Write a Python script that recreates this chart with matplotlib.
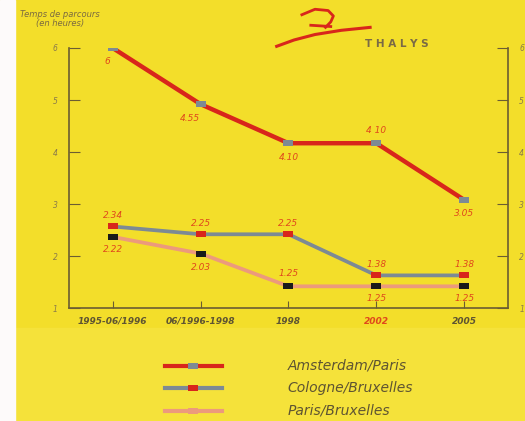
import matplotlib.pyplot as plt
from matplotlib.lines import Line2D
from matplotlib.patches import Rectangle

# Data (travel times in hours; labels are h.mm as printed)
periods = ["1995-06/1996", "06/1996-1998", "1998", "2002", "2005"]
amsterdam_paris = [6.0, 4.92, 4.17, 4.17, 3.08]
amsterdam_labels = ["6", "4.55", "4.10", "4 10", "3.05"]
cologne_bruxelles = [2.57, 2.42, 2.42, 1.63, 1.63]
cologne_labels = ["2.34", "2.25", "2.25", "1.38", "1.38"]
paris_bruxelles = [2.37, 2.05, 1.42, 1.42, 1.42]
paris_labels = ["2.22", "2.03", "1.25", "1.25", "1.25"]
series_names = ["Amsterdam/Paris", "Cologne/Bruxelles", "Paris/Bruxelles"]

yellow = "#f3de2a"
yellow_low = "#f5e23a"
red = "#d8261b"
grey = "#7d8a94"
pink = "#ec9a7c"
axis_col = "#6b5d32"
label_col = "#e0481c"
text_col = "#5e5432"

rect = [(-1, -0.6), (1, -0.6), (1, 0.6), (-1, 0.6), (-1, -0.6)]

fig = plt.figure(figsize=(5.25, 4.21), dpi=100, facecolor=yellow)
fig.patches.append(Rectangle((0, 0), 1, 0.221, transform=fig.transFigure,
                             color=yellow_low, zorder=0))
fig.patches.append(Rectangle((0, 0), 0.029, 1, transform=fig.transFigure,
                             color="#fdfafa", zorder=1))

ax = fig.add_axes([0.131, 0.268, 0.837, 0.618])
ax.set_facecolor("none")
x = list(range(len(periods)))

ax.plot(x, amsterdam_paris, color=red, lw=3.2, solid_capstyle="butt", zorder=3,
        marker=rect, ms=6.5, mfc=grey, mec=grey, mew=0)
ax.plot(x, cologne_bruxelles, color=grey, lw=2.7, solid_capstyle="butt", zorder=3,
        marker=rect, ms=6.5, mfc=red, mec=red, mew=0)
ax.plot(x, paris_bruxelles, color=pink, lw=2.7, solid_capstyle="butt", zorder=2,
        marker=rect, ms=6.5, mfc="#1a1a1a", mec="#1a1a1a", mew=0)

lab_kw = dict(color=label_col, fontsize=6.5, style="italic", ha="center")
ams_off = [(-4, -10), (-8, -10), (0, -10), (0, 9), (0, -10)]
for xi, v, t, o in zip(x, amsterdam_paris, amsterdam_labels, ams_off):
    ax.annotate(t, (xi, v), xytext=o, textcoords="offset points", va="center", **lab_kw)
for xi, v, t in zip(x, cologne_bruxelles, cologne_labels):
    ax.annotate(t, (xi, v), xytext=(0, 8), textcoords="offset points", va="center", **lab_kw)
par_off = [(0, -9), (0, -10), (0, 9), (0, -9), (0, -9)]
for xi, v, t, o in zip(x, paris_bruxelles, paris_labels, par_off):
    ax.annotate(t, (xi, v), xytext=o, textcoords="offset points", va="center", **lab_kw)

ax.set_xlim(-0.5, 4.5)
ax.set_ylim(1, 6)
ax.spines["top"].set_visible(False)
for s in ["left", "right", "bottom"]:
    ax.spines[s].set_color(axis_col)
    ax.spines[s].set_linewidth(1.2)
ax.set_yticks([1, 2, 3, 4, 5, 6])
ax.set_yticklabels(["1", "2", "3", "4", "5", "6"], style="italic")
ax.tick_params(axis="y", direction="in", length=8, color=axis_col, labelsize=5.5,
               labelcolor="#8a7a4a", right=True, labelright=True, pad=8)
ax.set_xticks(x)
ax.set_xticklabels(periods, fontsize=6.5, style="italic", fontweight="bold", color=text_col)
ax.get_xticklabels()[3].set_color(label_col)
ax.tick_params(axis="x", direction="in", length=5, color=axis_col, pad=6)

fig.text(0.115, 0.955, "Temps de parcours\n(en heures)", ha="center", va="center",
         fontsize=6, style="italic", color="#7a6a40", linespacing=1.1)

# THALYS logo
fig.text(0.755, 0.895, "T H A L Y S", ha="center", va="center", fontsize=7.5,
         fontweight="bold", color="#7a6a45")
fig.add_artist(Line2D([0.527, 0.56, 0.6, 0.65, 0.705], [0.89, 0.905, 0.918, 0.928, 0.935],
                      transform=fig.transFigure, color=red, lw=2.2))
fig.add_artist(Line2D([0.575, 0.6, 0.625, 0.635, 0.63, 0.62],
                      [0.965, 0.978, 0.975, 0.962, 0.948, 0.935],
                      transform=fig.transFigure, color=red, lw=2))
fig.add_artist(Line2D([0.592, 0.63], [0.94, 0.937],
                      transform=fig.transFigure, color=red, lw=2))

# Legend
leg_y = [0.131, 0.078, 0.024]
styles = [(red, grey), (grey, red), (pink, pink)]
for yy, name, (lc, mc) in zip(leg_y, series_names, styles):
    fig.add_artist(Line2D([0.314, 0.423], [yy, yy], transform=fig.transFigure,
                          color=lc, lw=3))
    fig.add_artist(Line2D([0.368], [yy], transform=fig.transFigure, marker=rect,
                          ms=6.5, mfc=mc, mec=mc, mew=0, lw=0))
    fig.text(0.548, yy, name, ha="left", va="center", fontsize=10, style="italic",
             color=text_col)

fig.savefig("out.png", dpi=100, facecolor=fig.get_facecolor())
